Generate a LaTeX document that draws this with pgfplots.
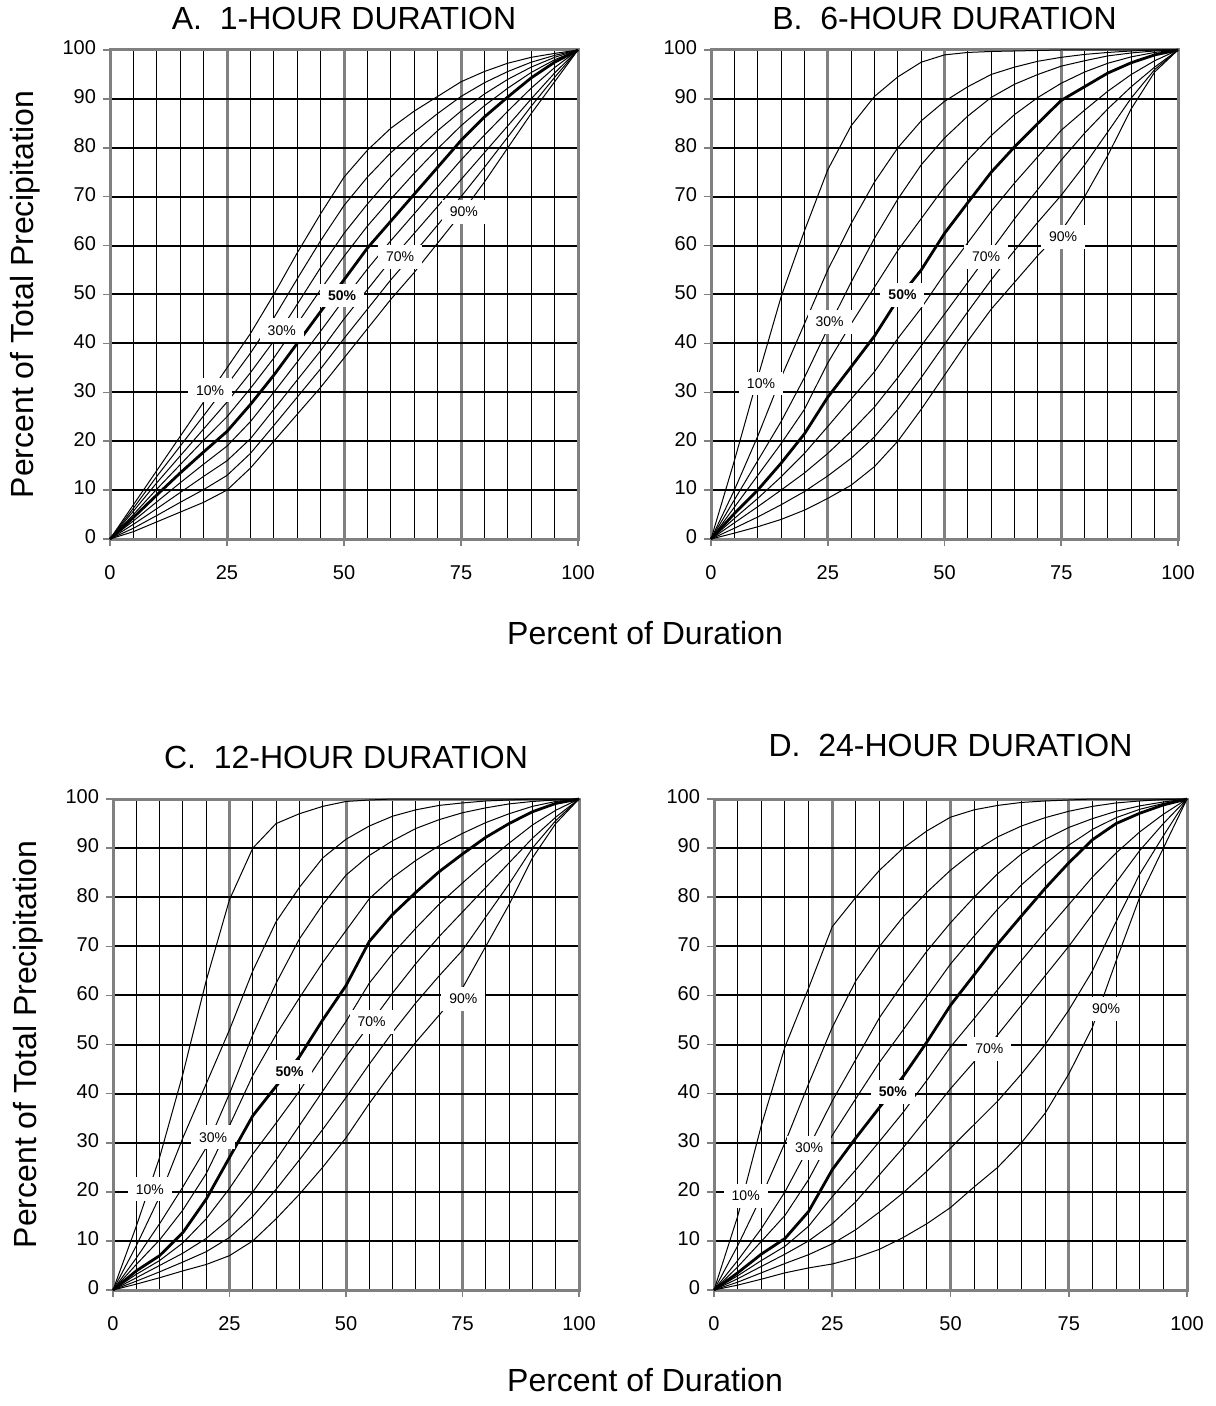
\documentclass[border=0pt]{standalone}
\usepackage{fontspec}
\setmainfont{Liberation Sans}
\usepackage{pgfplots}
\usepackage{pgfplotstable}
\pgfplotsset{compat=1.18}

\definecolor{majgray}{RGB}{128,128,128}

% percent of total precipitation vs percent of duration, one column per probability level
\pgfplotstableread{
x   p10  p20  p30  p40  p50  p60  p70  p80  p90
0   0    0    0    0    0    0    0    0    0
5   7    6.3  5.7  5    4.4  3.7  3    2.2  1.5
10  14   12.8 11.5 10.2 9    7.6  6.2  4.8  3.5
15  21   19   17   15.2 13.5 11.5 9.5  7.5  5.5
20  28   25.2 22.5 20.2 17.8 15.3 12.8 10.1 7.5
25  35   31.5 28   25   22   19   16   13   10
30  42   38   34   30.8 27.5 24   20.5 17.5 14.5
35  50   45.2 40.5 37   33.5 30   26.5 23.2 20
40  58.5 53.2 48   44   40   36.2 32.5 29   25.5
45  66.5 61   55.5 51   46.5 42.5 38.5 34.8 31
50  74   68.2 62.5 57.8 53   49   45   41   37
55  79.5 74   68.5 64   59.5 55.2 51   47   43
60  84   79   74   69.5 65   61   57   53   49
65  87.5 83.2 79   74.8 70.5 66.5 62.5 58.5 54.5
70  90.5 87   83.5 79.8 76   72   68   64.2 60.5
75  93.5 90.5 87.5 84.5 81.5 77.5 73.5 70   66.5
80  95.6 93.3 91   88.6 86.3 82.6 79   76   73
85  97.3 95.6 94   92.2 90.4 87.5 84.5 82.2 80
90  98.5 97.5 96.5 95.4 94.3 92.2 90   88.5 87
95  99.3 98.9 98.5 98   97.5 96.4 95.3 94.4 93.5
100 100  100  100  100  100  100  100  100  100
}\tabA

\pgfplotstableread{
x   p10  p20  p30  p40  p50  p60  p70  p80  p90
0   0    0    0    0    0    0    0    0    0
5   16   10   8    6.5  5.2  4.2  3.3  2.2  1.2
10  33   21   16   13   10   8.3  6.6  4.5  2.5
15  49.5 33   24   19.5 15.5 12.7 10   7    4
20  63   44   33   26.5 21.5 17.5 13.5 9.7  5.9
25  75.5 55   43   36   29   23   17.5 12.9 8.3
30  84.5 64.5 52.5 44   35.2 28.6 22   16.5 11
35  90.5 73   61.5 51.5 41.5 34.2 27   20.9 14.8
40  94.5 80   69.5 59   49   41   33   26.5 20
45  97.5 85.5 76.5 65.5 55   47.2 39.5 33   26.5
50  99   89.5 82   72   62.5 54.2 46   39.8 33.5
55  99.5 92.5 86.5 77.5 68.8 60.6 52.5 46.5 40.5
60  99.7 95   90.3 82.5 75   67   59   53   47
65  99.8 96.5 93   86.8 80.2 72.8 65.5 59   52.5
70  99.9 97.7 95   90.3 85   78.2 71.5 64.8 58
75  100  98.5 96.7 93.2 89.7 83.6 77.5 70.3 63
80  100  99.1 97.8 95.5 92.5 87.7 83   76.5 70
85  100  99.5 98.8 97.3 95.3 91.6 88   83.3 78.5
90  100  99.8 99.4 98.6 97.4 95   92.5 90.2 88
95  100  100  99.8 99.5 99   97.8 96.5 96   95.5
100 100  100  100  100  100  100  100  100  100
}\tabB

\pgfplotstableread{
x   p10  p20  p30  p40  p50  p60  p70  p80  p90
0   0    0    0    0    0    0    0    0    0
5   13   9    6.5  5.2  3.9  3.2  2.5  1.8  1.2
10  27   19   13.5 10.2 7    6    5    3.7  2.5
15  44   31   21   16.3 11.7 9.6  7.5  5.7  3.9
20  63   42   29   23.7 18.5 14.5 10.5 7.8  5.2
25  79.5 53   40   33.5 27   20.7 14.5 10.7 7
30  90   65   52   43.7 35.5 27.7 20   15   10
35  95   75   62.5 52   41.5 34   26.5 20.5 14.5
40  97   82   71.5 59.5 47.5 40.5 33.5 26.5 19.5
45  98.5 88   78.5 66.7 55   47.7 40.5 32.7 25
50  99.5 91.8 84.5 73.2 62   54.7 47.5 39.2 31
55  99.8 94.5 88.5 79.7 71   62.5 54   46   38
60  100  96.5 91.5 84   76.5 68.5 60.5 52.5 44.5
65  100  97.8 94   87.5 81   73.7 66.5 58.5 50.5
70  100  98.7 95.8 90.5 85.2 78.6 72   64   56
75  100  99.2 97.2 93   88.8 82.9 77   69.2 61.5
80  100  99.6 98.2 95.2 92.2 87.1 82   76   70
85  100  99.8 99   97   95   91   87   82.7 78.5
90  100  100  99.5 98.5 97.4 94.7 92   90   88
95  100  100  99.8 99.5 99.1 97.7 96.3 95.6 95
100 100  100  100  100  100  100  100  100  100
}\tabC

\pgfplotstableread{
x   p10  p20  p30  p40  p50  p60  p70  p80  p90
0   0    0    0    0    0    0    0    0    0
5   15   9    6    4.7  3.5  2.9  2.3  1.6  1
10  33.5 19   12.5 9.9  7.3  6    4.8  3.5  2.2
15  49.5 30   20   15.2 10.5 8.9  7.3  5.4  3.5
20  61.5 42   29   22.5 16   13   10   7.2  4.5
25  74   53.5 38.5 31.5 24.5 19   13.5 9.4  5.3
30  80   63   47   39   31   24.5 18   12.3 6.6
35  85.5 70   55.5 46.4 37.2 30.3 23.5 15.9 8.3
40  90   76   62.5 53   43.5 36.2 29   19.8 10.7
45  93.5 81   69   59.7 50.5 42.7 35   24.2 13.5
50  96.3 85.5 74.8 66.4 58   49.5 41   28.9 16.8
55  97.8 89.3 80   72.1 64.2 55.3 46.5 33.7 21
60  98.7 92.3 84.8 77.6 70.5 61.2 52   38.5 25
65  99.3 94.5 88.8 82.5 76.2 67.1 58   44   30
70  99.6 96.2 91.8 86.8 81.8 72.9 64   50   36
75  99.8 97.5 94.2 90.6 87   78.5 70   57   44
80  100  98.5 96   93.8 91.7 84.1 76.5 65   53.5
85  100  99.2 97.5 96.2 95   89   83   75   67
90  100  99.6 98.6 97.9 97.1 93.3 89.5 84.7 80
95  100  99.9 99.4 99.1 98.8 96.9 95   92.5 90
100 100  100  100  100  100  100  100  100  100
}\tabD

\pgfplotsset{
  huff/.style={
    scale only axis,
    xmin=0, xmax=100, ymin=0, ymax=100,
    xtick={0,25,50,75,100},
    minor xtick={5,10,15,20,30,35,40,45,55,60,65,70,80,85,90,95},
    ytick={0,10,...,100},
    xmajorgrids, xminorgrids, ymajorgrids,
    major x grid style={majgray, line width=1.5pt},
    minor x grid style={black, line width=0.5pt},
    major y grid style={black, line width=1pt},
    axis line style={majgray, line width=1.5pt},
    tick pos=left, tick align=outside,
    major tick length=3.5pt, minor tick length=0pt,
    tick style={majgray, line width=0.8pt},
    ticklabel style={font=\fontsize{10}{12}\selectfont},
    typeset ticklabels with strut,
    xticklabel style={yshift=-5pt},
    /pgf/number format/assume math mode=true,
    clip=false,
    title style={font=\fontsize{16}{19}\selectfont, at={(0.5,1)}, anchor=base},
    ylabel style={font=\fontsize{16}{19}\selectfont, at={(axis description cs:0,0.5)}, anchor=center, yshift=42.5pt},
  },
}
\tikzset{lab/.style={fill=white, inner xsep=4pt, inner ysep=3.5pt, font=\fontsize{7}{8}\selectfont}}

\begin{document}
\begin{tikzpicture}
\path[use as bounding box] (0,0) rectangle (607.5pt,-703pt);

% A
\begin{axis}[huff, at={(55pt,-269.5pt)}, anchor=south west, width=234pt, height=244.5pt,
  title={A.\ \ 1-HOUR DURATION}, title style={yshift=4pt},
  ylabel={Percent of Total Precipitation}]
\pgfplotsinvokeforeach{p10,p20,p30,p40,p60,p70,p80,p90}{
  \addplot[black, line width=0.5pt] table[x=x, y=#1]{\tabA};
}
\addplot[black, line width=1.4pt] table[x=x, y=p50]{\tabA};
\node[lab] at (axis cs:21.4,30.4) {10\%};
\node[lab] at (axis cs:36.7,42.7) {30\%};
\node[lab] at (axis cs:49.6,49.8) {\bfseries 50\%};
\node[lab] at (axis cs:62,57.7) {70\%};
\node[lab] at (axis cs:75.6,66.9) {90\%};
\end{axis}

% B
\begin{axis}[huff, at={(355.5pt,-269.5pt)}, anchor=south west, width=233.5pt, height=244.5pt,
  title={B.\ \ 6-HOUR DURATION}, title style={yshift=4pt}]
\pgfplotsinvokeforeach{p10,p20,p30,p40,p60,p70,p80,p90}{
  \addplot[black, line width=0.5pt] table[x=x, y=#1]{\tabB};
}
\addplot[black, line width=1.4pt] table[x=x, y=p50]{\tabB};
\node[lab] at (axis cs:10.7,31.8) {10\%};
\node[lab] at (axis cs:25.4,44.4) {30\%};
\node[lab] at (axis cs:41,49.9) {\bfseries 50\%};
\node[lab] at (axis cs:58.9,57.7) {70\%};
\node[lab] at (axis cs:75.4,61.8) {90\%};
\end{axis}

% C
\begin{axis}[huff, at={(56.5pt,-645pt)}, anchor=south west, width=233pt, height=245.5pt,
  title={C.\ \ 12-HOUR DURATION}, title style={yshift=9.5pt},
  ylabel={Percent of Total Precipitation}]
\pgfplotsinvokeforeach{p10,p20,p30,p40,p60,p70,p80,p90}{
  \addplot[black, line width=0.5pt] table[x=x, y=#1]{\tabC};
}
\addplot[black, line width=1.4pt] table[x=x, y=p50]{\tabC};
\node[lab] at (axis cs:7.9,20.5) {10\%};
\node[lab] at (axis cs:21.5,31.1) {30\%};
\node[lab] at (axis cs:37.9,44.4) {\bfseries 50\%};
\node[lab] at (axis cs:55.5,54.6) {70\%};
\node[lab] at (axis cs:75.2,59.3) {90\%};
\end{axis}

% D
\begin{axis}[huff, at={(357pt,-645pt)}, anchor=south west, width=236.5pt, height=245.5pt,
  title={D.\ \ 24-HOUR DURATION}, title style={yshift=15.5pt}]
\pgfplotsinvokeforeach{p10,p20,p30,p40,p60,p70,p80,p90}{
  \addplot[black, line width=0.5pt] table[x=x, y=#1]{\tabD};
}
\addplot[black, line width=1.4pt] table[x=x, y=p50]{\tabD};
\node[lab] at (axis cs:6.7,19.2) {10\%};
\node[lab] at (axis cs:20.1,29) {30\%};
\node[lab] at (axis cs:37.8,40.3) {\bfseries 50\%};
\node[lab] at (axis cs:58.2,49.1) {70\%};
\node[lab] at (axis cs:82.9,57.3) {90\%};
\end{axis}

\node[font=\fontsize{16}{19}\selectfont] at (322.5pt,-316.5pt) {Percent of Duration};
\node[font=\fontsize{16}{19}\selectfont] at (322.5pt,-690pt) {Percent of Duration};
\end{tikzpicture}
\end{document}
